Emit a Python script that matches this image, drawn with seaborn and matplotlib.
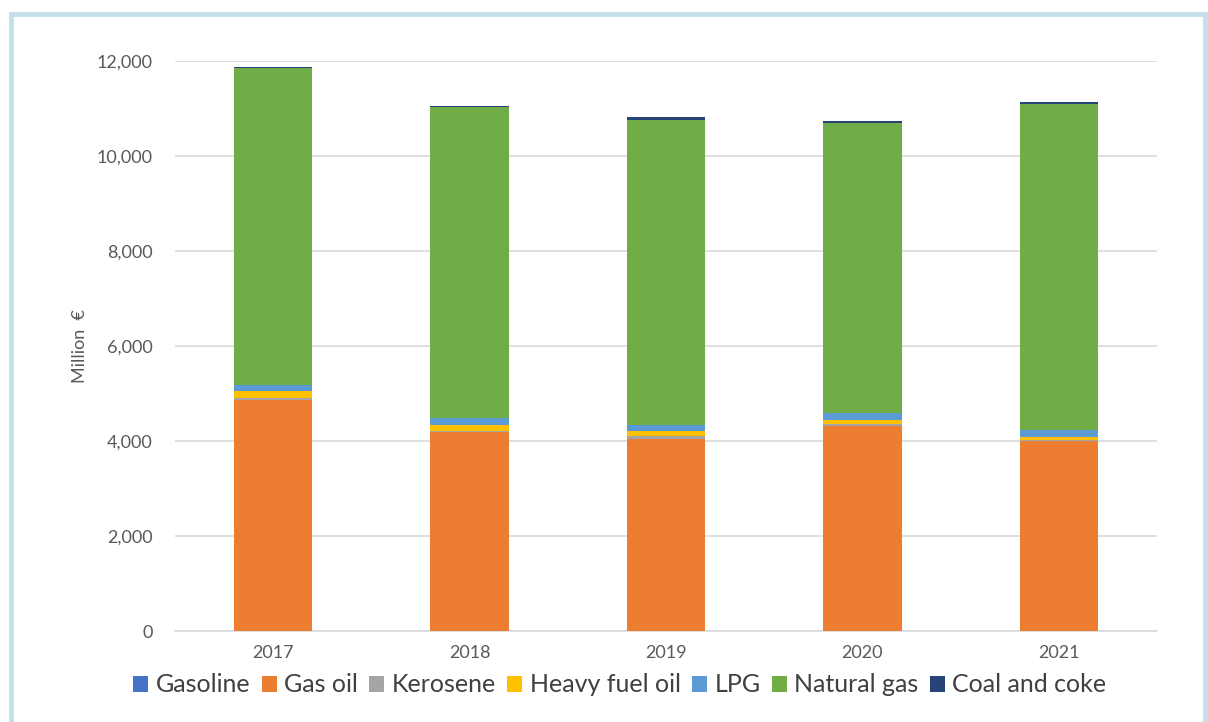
import matplotlib
matplotlib.use("Agg")
import matplotlib.pyplot as plt
import matplotlib.patches as mpatches
import numpy as np
import pandas as pd
import seaborn as sns

# Expenditure by fuel type, million euro
years = ["2017", "2018", "2019", "2020", "2021"]
gasoline = [0, 0, 0, 0, 0]
gas_oil = [4865, 4185, 4045, 4320, 4000]
kerosene = [50, 35, 63, 42, 20]
heavy_fuel_oil = [140, 120, 105, 85, 70]
lpg = [126, 147, 126, 140, 140]
natural_gas = [6680, 6535, 6415, 6115, 6875]
coal_and_coke = [15, 25, 57, 25, 25]

series_names = ["Gasoline", "Gas oil", "Kerosene", "Heavy fuel oil", "LPG",
                "Natural gas", "Coal and coke"]
series_values = [gasoline, gas_oil, kerosene, heavy_fuel_oil, lpg,
                 natural_gas, coal_and_coke]
series_colors = ["#4472C4", "#ED7D31", "#A5A5A5", "#FFC000", "#5B9BD5",
                 "#70AD47", "#264478"]

sns.set_theme(style="white")
plt.rcParams["font.family"] = ["Lato", "DejaVu Sans"]

# Long table with the running total of each stacked layer
rows = []
cum = np.zeros(len(years))
for name, vals in zip(series_names, series_values):
    cum = cum + np.array(vals, dtype=float)
    for y, c in zip(years, cum):
        rows.append({"Year": y, "Series": name, "Top": c})
df = pd.DataFrame(rows)

fig = plt.figure(figsize=(12.08, 7.22), dpi=100)
ax = fig.add_axes([175 / 1208, 1 - 631 / 722, (1157 - 175) / 1208, (631 - 61) / 722])

# Draw from the top layer down so each lower layer covers the one above it
for name, color in reversed(list(zip(series_names, series_colors))):
    sub = df[df["Series"] == name]
    sns.barplot(data=sub, x="Year", y="Top", color=color, width=0.4,
                saturation=1, ax=ax, order=years, zorder=3,
                linewidth=0, edgecolor="none")

ax.set_ylim(0, 12000)
ax.set_xlim(-0.5, len(years) - 0.5)
ax.set_yticks(np.arange(0, 12001, 2000))
ax.set_yticklabels([f"{v:,}" for v in range(0, 12001, 2000)])
ax.yaxis.grid(True, color="#D9D9D9", linewidth=1.2, zorder=0)
ax.set_axisbelow(True)
for s in ["top", "right", "left"]:
    ax.spines[s].set_visible(False)
ax.spines["bottom"].set_color("#D9D9D9")
ax.spines["bottom"].set_linewidth(1.2)
ax.tick_params(axis="y", length=0, pad=16, labelsize=13, labelcolor="#595959")
ax.tick_params(axis="x", length=0, pad=10, labelsize=13, labelcolor="#595959")
ax.set_xlabel("")
ax.set_ylabel("Million  €", fontsize=13, color="#595959", labelpad=6)

handles = [mpatches.Patch(facecolor=c, edgecolor="none", label=n)
           for n, c in zip(series_names, series_colors)]
leg = fig.legend(handles=handles, loc="center", bbox_to_anchor=(620 / 1208, 1 - 685 / 722),
                 ncol=7, frameon=False, fontsize=18, handlelength=0.6,
                 handleheight=0.6, handletextpad=0.3, columnspacing=0.45,
                 labelcolor="#404040")

# Light blue frame around the chart
fig.patches.append(mpatches.Rectangle((11 / 1208, -0.05), (1205 - 11) / 1208, 1.05 - 14 / 722,
                                      transform=fig.transFigure, fill=False,
                                      edgecolor="#C3DFEA", linewidth=3.5))

fig.savefig("out.png", dpi=100)
